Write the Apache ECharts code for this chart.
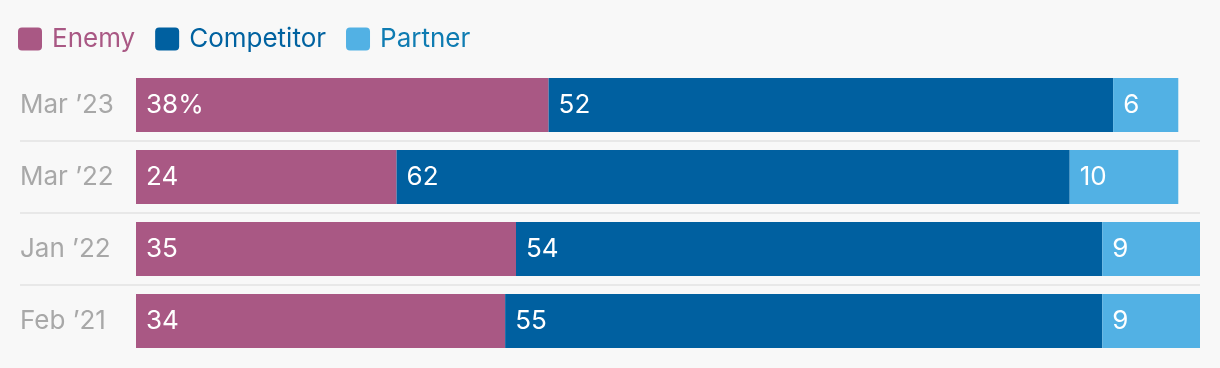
<!DOCTYPE html>
<html>
<head>
<meta charset="utf-8">
<script src="https://cdn.jsdelivr.net/npm/echarts@6/dist/echarts.min.js"></script>
<style>
html,body{margin:0;padding:0;background:#f8f8f8;}
#c{width:1220px;height:368px;}
</style>
</head>
<body>
<div id="c"></div>
<script>
const categories = ["Mar \u201923", "Mar \u201922", "Jan \u201922", "Feb \u201921"];
const enemy = [38, 24, 35, 34];
const competitor = [52, 62, 54, 55];
const partner = [6, 10, 9, 9];
const seriesNames = ["Enemy", "Competitor", "Partner"];
const colors = ["#a95884", "#0060a0", "#52b1e4"];
const legendTextColors = ["#a95884", "#0062a0", "#0f7cb2"];

const FONT = "Inter, 'Noto Sans', sans-serif";
const chart = echarts.init(document.getElementById('c'), null, {renderer: 'canvas'});

function mkSeries(name, data, idx) {
  return {
    name: name,
    type: 'bar',
    stack: 'total',
    xAxisIndex: 0,
    yAxisIndex: 0,
    barWidth: 54,
    data: data,
    itemStyle: {color: colors[idx]},
    silent: true,
    label: {
      show: true,
      position: 'insideLeft',
      distance: 10,
      color: '#ffffff',
      fontFamily: FONT,
      fontSize: 26,
      formatter: function (p) {
        return (p.dataIndex === 0 && idx === 0) ? p.value + '%' : String(p.value);
      }
    }
  };
}

const ICON = 'path://M4,0H20Q24,0 24,4V19Q24,23 20,23H4Q0,23 0,19V4Q0,0 4,0Z';

chart.setOption({
  backgroundColor: '#f8f8f8',
  animation: false,
  color: colors,
  legend: {
    left: 18,
    top: 26,
    padding: 0,
    itemWidth: 24,
    itemHeight: 23,
    itemGap: 20,
    icon: ICON,
    textStyle: {fontFamily: FONT, fontSize: 26, padding: [2, 0, 0, 5]},
    data: seriesNames.map((n, i) => ({name: n, textStyle: {color: legendTextColors[i]}}))
  },
  grid: [
    {left: 136, right: 20, top: 69, bottom: 11, containLabel: false},
    {left: 20, right: 20, top: 69, bottom: 11, containLabel: false}
  ],
  xAxis: [
    {type: 'value', gridIndex: 0, min: 0, max: 98, show: false},
    {type: 'value', gridIndex: 1, min: 0, max: 1, show: false}
  ],
  yAxis: [
    {
      type: 'category', gridIndex: 0, inverse: true, data: categories,
      axisLine: {show: false}, axisTick: {show: false}, splitLine: {show: false},
      axisLabel: {
        align: 'left', margin: 116, color: '#a8a8a8',
        fontFamily: FONT, fontSize: 26
      }
    },
    {
      type: 'category', gridIndex: 1, inverse: true, data: categories,
      axisLine: {show: false}, axisTick: {show: false}, axisLabel: {show: false},
      splitLine: {show: true, showMinLine: false, showMaxLine: false,
        lineStyle: {color: '#e8e8e8', width: 2}}
    }
  ],
  series: [
    mkSeries(seriesNames[0], enemy, 0),
    mkSeries(seriesNames[1], competitor, 1),
    mkSeries(seriesNames[2], partner, 2)
  ]
});
</script>
</body>
</html>
